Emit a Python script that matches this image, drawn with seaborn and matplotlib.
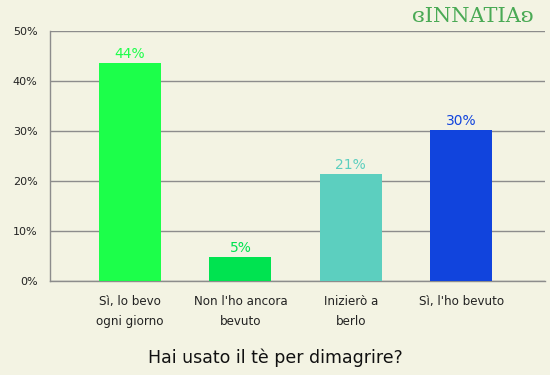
import pandas as pd
import matplotlib.pyplot as plt
import seaborn as sns

# --- data ---
categories = ["Sì, lo bevo\nogni giorno", "Non l'ho ancora\nbevuto", "Inizierò a\nberlo", "Sì, l'ho bevuto"]
percent = [43.7, 4.9, 21.4, 30.2]
bar_colors = ["#1cff4a", "#00e350", "#5ccfbf", "#1144dd"]
y_ticks = [0, 10, 20, 30, 40, 50]

BG = "#f3f3e3"
GRID = "#8c8c8c"

df = pd.DataFrame({"answer": categories, "pct": percent})

sns.set_style("white")
plt.rcParams["font.family"] = ["DejaVu Sans"]

fig = plt.figure(figsize=(5.5, 3.75), dpi=100, facecolor=BG)
ax = fig.add_axes([50 / 550, 1 - 281 / 375, 495 / 550, 250 / 375])
ax.set_facecolor(BG)

sns.barplot(data=df, x="answer", y="pct", hue="answer", palette=bar_colors,
            width=0.56, saturation=1, legend=False, ax=ax, zorder=3,
            edgecolor="none", linewidth=0)

# value labels above bars
for i, (v, c) in enumerate(zip(percent, bar_colors)):
    ax.text(i, v + 0.4, f"{round(v)}%", ha="center", va="bottom",
            color=c, fontsize=10, zorder=4)

ax.set_ylim(0, 50)
ax.set_xlim(-0.725, 3.76)
ax.set_yticks(y_ticks)
ax.set_yticklabels([f"{t}%" for t in y_ticks], fontsize=8, color="#222222")
ax.yaxis.grid(True, color=GRID, linewidth=1, zorder=0)
ax.tick_params(axis="y", length=5, color=GRID, width=1, pad=4)

# x ticks: boundaries carry tick marks, labels sit at category centres
ax.set_xticks([0.5, 1.5, 2.5], minor=True)
ax.set_xticks(range(len(categories)))
ax.set_xticklabels(categories, fontsize=8.6, color="#222222", linespacing=1.75)
ax.tick_params(axis="x", which="major", length=0, pad=10)
ax.tick_params(axis="x", which="minor", length=5, color=GRID, width=1)

for side in ["top", "right"]:
    ax.spines[side].set_visible(False)
for side in ["left", "bottom"]:
    ax.spines[side].set_color(GRID)
    ax.spines[side].set_linewidth(1)
ax.set_xlabel("")
ax.set_ylabel("")

fig.text(275 / 550, 1 - 358 / 375, "Hai usato il tè per dimagrire?",
         ha="center", va="center", fontsize=12.5, color="#111111")

# site logo, top right
fig.text(473 / 550, 1 - 17 / 375, "ɞINNATIAʚ", ha="center", va="center",
         fontsize=15, color="#4aaa55", family="DejaVu Serif")

fig.savefig("out.png", dpi=100, facecolor=BG)
